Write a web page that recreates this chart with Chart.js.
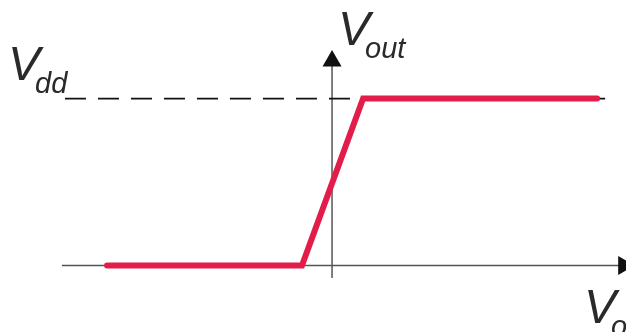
<!DOCTYPE html>
<html lang="en">
<head>
    <meta charset="UTF-8">
    <title>Vout vs Vin</title>
    <script src="https://cdn.jsdelivr.net/npm/chart.js"></script>
    <style>
        body { margin: 0; background: #fff; }
        #wrap { width: 626px; height: 332px; }
    </style>
</head>
<body>
    <div id="wrap"><canvas id="transferChart" width="626" height="332"></canvas></div>
    <script>
        // transfer curve, Vdd = 1 (input in the same units, 0 at the vertical axis)
        const vinPoints = [-1.347, -0.18, 0.186, 1.587];
        const voutPoints = [0, 0, 1, 1];
        const vdd = 1;
        const vddLineX = [-1.599, 1.635];
        // axis extents and arrow tips
        const xAxisX = [-1.617, 1.76];
        const yAxisY = [-0.075, 1.21];
        const arrowX = [0, 1.746];
        const arrowY = [1.225, 0];
        // visible range
        const xRange = [-1.988, 1.760];
        const yRange = [-0.398, 1.590];

        const ink = '#2a2a2a';

        const labels = {
            id: 'labels',
            afterDraw(chart) {
                const c = chart.ctx;
                const x = chart.scales.x, y = chart.scales.y;
                const x0 = x.getPixelForValue(0);
                const y0 = y.getPixelForValue(0);
                const yd = y.getPixelForValue(vdd);
                c.save();
                c.fillStyle = ink;
                c.textAlign = 'left';
                c.textBaseline = 'alphabetic';
                function label(px, py, main, sub) {
                    c.font = 'italic 48px "Liberation Sans", Arial, sans-serif';
                    c.fillText(main, px, py);
                    const w = c.measureText(main).width;
                    c.font = 'italic 29px "Liberation Sans", Arial, sans-serif';
                    c.fillText(sub, px + w - 5, py + 13);
                }
                label(8, yd - 19, 'V', 'dd');
                label(x0 + 6, 45, 'V', 'out');
                label(x0 + 252, y0 + 57, 'V', 'o');
                c.restore();
            }
        };

        const ctx = document.getElementById('transferChart').getContext('2d');
        new Chart(ctx, {
            type: 'line',
            data: {
                datasets: [
                    {
                        data: vinPoints.map((v, i) => ({ x: v, y: voutPoints[i] })),
                        borderColor: '#e21d4a',
                        borderWidth: 6,
                        borderCapStyle: 'round',
                        borderJoinStyle: 'miter',
                        pointRadius: 0,
                        tension: 0
                    },
                    {
                        data: vddLineX.map(v => ({ x: v, y: vdd })),
                        borderColor: '#111',
                        borderWidth: 1.8,
                        borderDash: [21, 12],
                        pointRadius: 0
                    },
                    {
                        data: arrowX.map((v, i) => ({ x: v, y: arrowY[i] })),
                        showLine: false,
                        pointStyle: 'triangle',
                        pointRadius: 11,
                        rotation: [0, 90],
                        backgroundColor: '#111',
                        borderColor: '#111',
                        borderWidth: 0,
                        clip: false
                    },
                    {
                        data: xAxisX.map(v => ({ x: v, y: 0 })),
                        borderColor: '#555',
                        borderWidth: 1.5,
                        pointRadius: 0
                    },
                    {
                        data: yAxisY.map(v => ({ x: 0, y: v })),
                        borderColor: '#555',
                        borderWidth: 1.5,
                        pointRadius: 0
                    }
                ]
            },
            options: {
                responsive: false,
                animation: false,
                layout: { padding: 0, autoPadding: false },
                plugins: {
                    legend: { display: false },
                    tooltip: { enabled: false }
                },
                scales: {
                    x: { type: 'linear', display: false, min: xRange[0], max: xRange[1] },
                    y: { type: 'linear', display: false, min: yRange[0], max: yRange[1] }
                }
            },
            plugins: [labels]
        });
    </script>
</body>
</html>
